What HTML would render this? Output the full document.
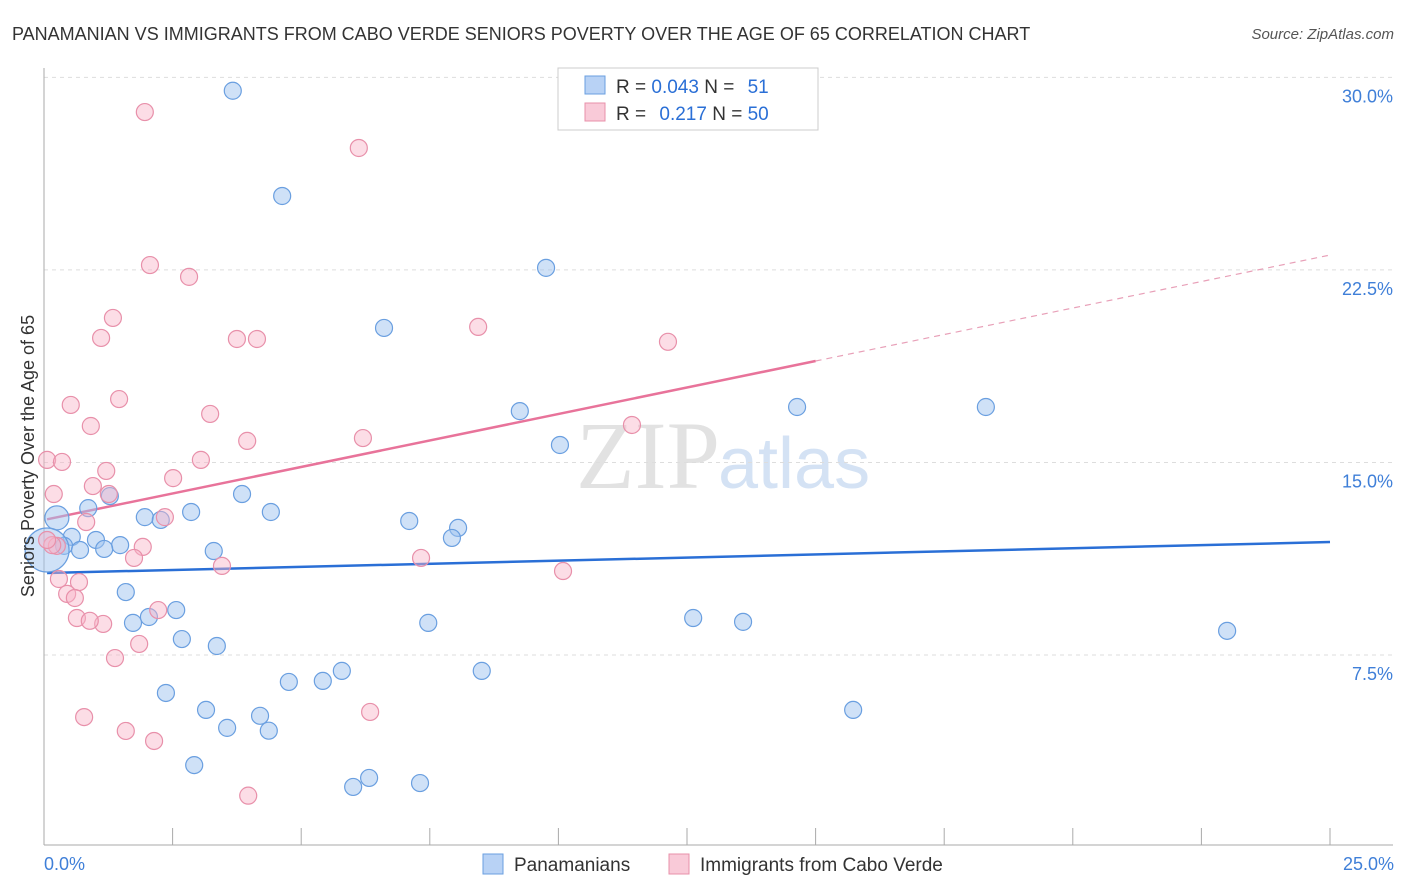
<!DOCTYPE html>
<html><head><meta charset="utf-8"><style>
body{margin:0;background:#fff;font-family:"Liberation Sans",sans-serif;}
svg{display:block}
</style></head><body>
<svg id="chart" width="1406" height="892">
<text x="12" y="40" font-size="18" fill="#333">PANAMANIAN VS IMMIGRANTS FROM CABO VERDE SENIORS POVERTY OVER THE AGE OF 65 CORRELATION CHART</text>
<text x="1394" y="39" font-size="15" fill="#555" font-style="italic" text-anchor="end">Source: ZipAtlas.com</text>
<text x="720" y="488" font-size="96" fill="#d6d6d6" text-anchor="end" font-family="Liberation Serif,serif" opacity="0.7">ZIP</text>
<text x="718" y="488" font-size="72" fill="#b9d0ee" opacity="0.6">atlas</text>
<g id="grid"></g><g id="axes"></g><g id="trend"></g><g id="pts"></g>
<text x="34" y="456" font-size="18" fill="#333" text-anchor="middle" transform="rotate(-90 34 456)">Seniors Poverty Over the Age of 65</text>
<text x="44" y="870" font-size="18" fill="#3f7fd8">0.0%</text>
<text x="1394" y="870" font-size="18" fill="#3f7fd8" text-anchor="end">25.0%</text>
<g>
<rect x="558" y="68" width="260" height="62" fill="#fff" stroke="#ccc"/>
<rect x="585" y="76" width="20" height="18" fill="#b8d2f5" stroke="#6a9fe0"/>
<rect x="585" y="103" width="20" height="18" fill="#f9cad8" stroke="#e890aa"/>
<text x="616" y="93" font-size="19" fill="#333">R = <tspan fill="#2a6fd6">0.043</tspan>   N = <tspan fill="#2a6fd6" dx="8">51</tspan></text>
<text x="616" y="120" font-size="19" fill="#333">R = <tspan fill="#2a6fd6" dx="8">0.217</tspan>   N = <tspan fill="#2a6fd6">50</tspan></text>
</g>
<g>
<rect x="483" y="854" width="20" height="20" fill="#b8d2f5" stroke="#6a9fe0"/>
<text x="514" y="871" font-size="19" fill="#333">Panamanians</text>
<rect x="669" y="854" width="20" height="20" fill="#f9cad8" stroke="#e890aa"/>
<text x="700" y="871" font-size="19" fill="#333">Immigrants from Cabo Verde</text>
</g>
</svg>
<script>
const yTicks=[7.5,15,22.5,30];
const yTickLabels=["7.5%","15.0%","22.5%","30.0%"];
const xTicks=[0,2.5,5,7.5,10,12.5,15,17.5,20,22.5,25];
const blueX=[3.67,4.63,9.76,6.61,9.25,14.64,18.31,10.03,1.28,3.85,0.86,2.86,4.41,1.96,2.27,7.10,8.05,7.93,0.25,0.54,1.01,1.48,0.39,0.70,1.17,3.30,0.06,1.59,2.57,2.04,1.73,7.47,12.62,13.59,23.00,2.68,3.36,5.79,8.51,4.76,5.42,2.37,3.15,15.73,4.20,3.56,4.37,2.92,6.32,6.01,7.31];
const blueY=[29.48,25.38,22.58,20.24,17.00,17.16,17.16,15.68,13.69,13.77,13.22,13.07,13.07,12.87,12.76,12.72,12.45,12.06,12.84,12.10,11.98,11.78,11.75,11.59,11.63,11.55,11.59,9.95,9.25,8.98,8.75,8.75,8.94,8.79,8.44,8.12,7.85,6.88,6.88,6.45,6.49,6.02,5.36,5.36,5.13,4.66,4.55,3.21,2.71,2.36,2.51];
const pinkX=[1.96,6.12,2.06,2.82,1.34,8.44,1.11,3.75,4.14,12.13,1.46,0.52,3.23,0.91,11.43,3.95,6.20,0.06,0.35,3.05,1.21,0.95,0.19,1.26,2.51,2.35,0.82,0.25,1.92,1.75,3.46,7.33,10.09,0.29,0.68,0.45,0.60,2.22,0.64,1.15,0.89,1.85,1.38,0.78,6.34,1.59,2.14,3.97,0.16,0.06];
const pinkY=[28.65,27.25,22.69,22.23,20.63,20.28,19.85,19.81,19.81,19.70,17.47,17.24,16.89,16.42,16.46,15.84,15.95,15.10,15.02,15.10,14.67,14.08,13.77,13.77,14.39,12.87,12.68,11.75,11.71,11.28,10.97,11.28,10.77,10.46,10.34,9.88,9.72,9.25,8.94,8.71,8.83,7.93,7.38,5.08,5.28,4.54,4.15,2.02,11.78,11.98];
const blueTrend=[10.69,11.90];
const pinkTrend=[12.76,23.08];
const X=v=>44+v*51.44, Y=v=>847.5-v*25.67;
const NS="http://www.w3.org/2000/svg";
function mk(t,a,p){const e=document.createElementNS(NS,t);for(const k in a)e.setAttribute(k,a[k]);p.appendChild(e);return e;}
const grid=document.getElementById('grid'),axes=document.getElementById('axes'),tr=document.getElementById('trend'),pts=document.getElementById('pts');
yTicks.forEach((v,i)=>{
 const l=mk('line',{x1:44,x2:1393,y1:Y(v),y2:Y(v),stroke:'#ddd','stroke-dasharray':'4,4'},grid);
 
 
 const t=mk('text',{x:1393,y:Y(v)+25,'font-size':18,fill:'#3f7fd8','text-anchor':'end'},grid);
 t.textContent=yTickLabels[i];
 
 
});
const ya=mk('line',{x1:44,x2:44,y1:68,y2:845,stroke:'#aaa'},axes);


const xa=mk('line',{x1:44,x2:1393,y1:845,y2:845,stroke:'#aaa'},axes);


xTicks.forEach(v=>{
 const t=mk('line',{x1:X(v),x2:X(v),y1:828,y2:845,stroke:'#aaa'},axes);
 
 
});
function dot(x,y,r,f,s,name){
 const c=mk('circle',{cx:X(x),cy:Y(y),r:r,fill:f,stroke:s,'stroke-width':1.2},pts);
 
 
}
blueX.forEach((x,i)=>dot(x,blueY[i],i==26?22:(i==18?12:8.5),'rgba(160,196,240,0.5)','#6a9fe0','panamanian-point'));
pinkX.forEach((x,i)=>dot(x,pinkY[i],8.5,'rgba(248,180,200,0.45)','#e890aa','cabo-verde-point'));
const bl=mk('line',{x1:X(0.06),y1:Y(blueTrend[0]+(blueTrend[1]-blueTrend[0])*0.06/25),x2:X(25),y2:Y(blueTrend[1]),stroke:'#2a6fd6','stroke-width':2.5},tr);


const pm=v=>pinkTrend[0]+(pinkTrend[1]-pinkTrend[0])*v/25;
const pl=mk('line',{x1:X(0.06),y1:Y(pm(0.06)),x2:X(15),y2:Y(pm(15)),stroke:'#e8739a','stroke-width':2.5},tr);


const pd=mk('line',{x1:X(15),y1:Y(pm(15)),x2:X(25),y2:Y(pm(25)),stroke:'#e8a0b8','stroke-width':1.2,'stroke-dasharray':'6,5'},tr);


</script>
</body></html>
